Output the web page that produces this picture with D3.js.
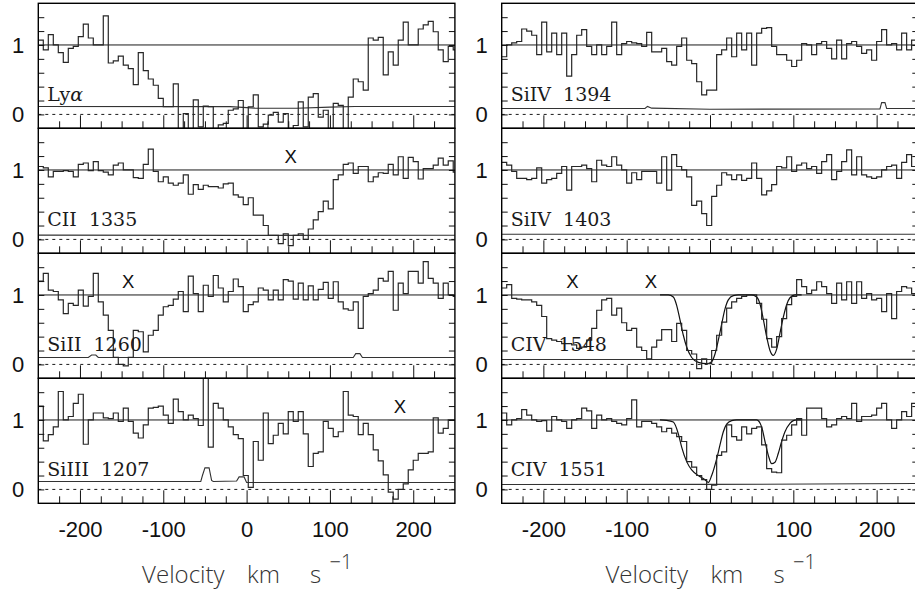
<!DOCTYPE html>
<html>
<head>
<meta charset="utf-8">
<script src="https://cdn.jsdelivr.net/npm/d3@7"></script>
<style>
  body { margin: 0; background: #fff; }
  svg { display: block; }
</style>
</head>
<body>
<svg id="chart" width="915" height="593"></svg>
<script>
// Velocity grid of the binned spectra (km/s)
const vStart = -250;
const vStep = 6;

// Normalised flux per bin
const lyaFlux = [
  1.07,0.93,1.15,1.0,0.89,0.75,0.95,0.98,1.12,1.3,
  1.1,1.0,1.0,1.42,0.74,0.77,0.84,0.71,0.66,0.43,
  0.89,0.63,0.51,0.42,0.23,0.11,0.11,
  0.44,-0.25,0.01,-0.25,0.21,-0.18,0.12,0.11,-0.25,-0.15,
  -0.13,0.06,0.08,0.2,-0.25,0.11,0.28,-0.18,-0.14,-0.01,
  0.03,-0.11,0.01,-0.25,-0.16,0.18,-0.18,0.25,0.3,-0.04,
  0.06,-0.25,0.16,0.13,-0.25,
  0.25,0.51,0.47,0.35,1.1,1.07,1.11,0.57,0.9,0.71,
  1.07,1.33,1.0,1.0,1.23,1.29,1.34,1.19,0.93,0.76,0.98,0.93
];
const ciiFlux = [
  1.05,1.03,0.9,0.98,0.98,0.99,0.98,0.9,1.08,1.1,
  0.99,1.12,0.99,0.97,0.93,1.07,1.1,1.0,1.0,0.89,
  0.88,1.08,1.3,0.98,0.83,0.9,0.81,0.78,0.81,0.93,
  0.65,0.79,0.72,0.78,0.76,0.76,0.74,0.8,0.81,0.64,
  0.61,0.5,0.6,0.35,0.35,0.2,0.06,0.06,-0.06,0.08,
  -0.09,0.06,0.08,0.0,0.15,0.28,0.4,0.55,0.44,0.86,
  0.93,1.08,1.1,0.95,1.05,1.05,0.83,0.9,0.96,0.95,
  1.08,0.93,1.19,0.88,1.18,1.12,0.87,1.02,1.02,1.07,
  1.17,1.07,1.13,0.97
];
const siiiFlux = [
  1.2,1.31,1.07,1.05,0.93,0.73,0.88,0.85,1.07,0.84,
  0.98,1.31,0.9,0.71,0.49,0.1,0.0,-0.02,0.1,0.49,
  0.47,0.18,0.42,0.49,0.71,0.83,0.85,0.94,1.05,0.76,
  1.27,1.02,0.76,1.14,0.98,1.28,1.1,0.9,1.05,1.23,
  1.12,0.76,0.86,0.9,1.1,1.07,0.93,1.07,0.93,1.22,
  1.2,0.94,1.17,0.93,1.13,0.93,1.08,1.18,0.95,1.19,
  0.9,0.8,0.78,0.9,0.52,0.98,1.02,1.07,1.24,1.2,
  1.34,0.78,1.17,1.02,1.34,1.34,1.17,1.48,1.24,1.17,
  0.95,1.17,1.0,0.98
];
const siiiiFlux = [
  1.2,0.7,0.79,0.9,1.41,1.0,1.05,1.24,1.37,0.65,
  1.0,1.1,1.1,1.03,1.02,1.1,0.98,1.17,0.98,0.81,
  0.74,0.93,1.17,1.18,1.2,1.07,0.95,1.3,1.12,1.0,
  1.07,1.02,0.92,1.7,0.61,1.24,1.17,1.0,0.9,0.79,
  0.73,0.2,0.03,0.69,0.42,1.1,0.66,0.78,0.95,0.8,
  1.12,0.98,1.12,0.8,0.33,0.52,0.54,0.98,0.88,0.76,
  0.83,1.41,1.07,1.05,0.79,0.95,0.79,0.57,0.41,0.21,
  -0.04,-0.14,0.0,0.08,0.28,0.42,0.52,0.52,0.54,1.03,
  0.81,0.88,1.0,1.0
];
const siiv1394Flux = [
  0.83,1.0,1.03,1.05,1.23,1.2,1.14,0.86,1.33,0.9,
  1.17,0.86,1.17,0.55,0.86,1.14,1.22,0.98,0.86,1.0,
  0.86,0.98,1.33,0.86,1.02,1.05,1.03,1.02,0.98,1.18,
  0.9,0.9,0.95,0.76,0.71,0.98,1.1,0.78,0.73,0.47,
  0.28,0.35,0.35,0.86,0.93,1.1,0.83,1.17,0.93,1.17,
  0.71,1.17,1.24,1.25,0.98,0.86,0.86,0.78,0.69,0.78,
  1.02,1.0,0.86,1.02,1.05,0.95,0.8,1.07,0.8,1.02,
  1.05,0.98,0.88,0.93,0.78,1.05,1.22,1.0,1.02,0.93,
  1.17,0.93,1.07,1.0
];
const siiv1403Flux = [
  1.11,1.07,0.98,0.88,0.88,0.86,0.88,1.03,0.81,0.86,
  0.88,0.95,1.05,0.71,1.05,1.05,1.07,1.02,0.83,1.14,
  1.07,1.05,1.19,1.07,1.0,0.81,0.96,0.86,0.98,0.98,
  0.98,0.81,1.19,0.71,1.22,1.05,1.0,0.9,0.49,0.55,
  0.37,0.2,0.62,0.78,0.96,0.93,0.86,0.93,0.85,0.88,
  1.1,0.88,0.64,0.7,0.79,1.05,1.03,1.19,0.98,1.07,
  1.1,1.02,1.05,0.95,1.12,1.22,0.86,0.98,1.12,1.29,
  0.93,1.19,0.93,0.9,0.88,0.9,1.0,1.05,1.07,0.88,
  1.11,1.22,1.05,1.05
];
const civ1548Flux = [
  1.1,1.15,0.95,0.94,0.93,0.93,0.9,0.85,0.69,0.37,
  0.35,0.33,0.3,0.3,0.28,0.23,0.25,0.35,0.52,0.78,
  0.93,0.95,0.71,0.81,0.6,0.49,0.52,0.25,0.2,0.08,
  0.25,0.35,0.5,0.5,0.33,0.59,0.49,0.2,0.15,-0.06,
  0.08,0.01,0.2,0.42,0.61,0.81,0.9,0.95,0.98,1.0,
  1.0,0.88,0.65,0.37,0.25,0.4,0.66,0.86,0.98,1.22,
  1.12,1.02,1.07,1.19,1.12,1.02,0.88,1.17,0.93,1.19,
  0.88,1.19,0.95,1.02,0.93,0.95,0.76,1.02,0.66,1.05,
  1.12,1.1,1.02,1.0
];
const civ1551Flux = [
  1.1,0.93,1.0,1.02,1.15,1.07,1.0,0.98,0.99,0.84,
  1.05,1.0,0.98,0.88,1.0,1.02,1.17,1.13,0.88,1.07,
  1.0,1.02,0.98,0.95,0.93,1.02,1.29,0.9,0.98,0.98,
  0.95,0.9,0.83,0.88,0.81,0.76,0.69,0.4,0.32,0.2,
  0.14,0.0,0.06,0.49,0.54,0.93,0.76,0.71,0.9,0.8,
  0.88,0.9,0.64,0.3,0.25,0.24,0.71,0.78,0.93,1.02,
  0.78,1.17,1.17,1.17,1.02,0.9,0.93,1.02,1.05,1.02,
  1.24,0.98,1.05,1.05,1.07,1.17,1.24,1.0,0.88,1.0,
  1.12,1.05,1.24,1.0
];

// 1-sigma error spectra as [velocity, error] knots
const lyaErr = [[-250,0.115],[-20,0.112],[10,0.09],[60,0.088],[100,0.105],[130,0.115],[250,0.115]];
const ciiErr = [[-250,0.062],[0,0.058],[250,0.06]];
const siiiErr = [[-250,0.1],[-190,0.1],[-186,0.135],[-181,0.135],[-178,0.1],[128,0.1],[131,0.155],[136,0.155],[139,0.1],[250,0.1]];
const siiiiErr = [[-250,0.115],[-55,0.115],[-53,0.2],[-50,0.31],[-45,0.31],[-42,0.13],[-40,0.115],[-12,0.12],[-9,0.18],[-3,0.18],[0,0.1],[250,0.1]];
const siiv1394Err = [[-250,0.085],[-78,0.085],[-75,0.115],[-70,0.09],[0,0.075],[204,0.08],[206,0.17],[210,0.17],[212,0.085],[250,0.085]];
const siiv1403Err = [[-250,0.075],[250,0.075]];
const civ1548Err = [[-250,0.07],[250,0.072]];
const civ1551Err = [[-250,0.07],[0,0.072],[250,0.085]];

// Voigt-profile fits to the CIV doublet, [velocity, flux]
const civ1548Fit = [[-60,1],[-50,1],[-44,0.97],[-40,0.85],[-36,0.64],[-32,0.42],[-28,0.25],[-22,0.1],[-14,0.03],[-4,0.01],[2,0.04],[6,0.15],[10,0.35],[14,0.58],[18,0.8],[22,0.93],[28,0.99],[34,1.0],[50,1.0],[56,0.97],[60,0.87],[64,0.65],[68,0.4],[72,0.2],[76,0.13],[80,0.22],[84,0.45],[88,0.68],[92,0.86],[96,0.96],[102,1.0],[110,1.0]];
const civ1551Fit = [[-60,1],[-52,0.995],[-44,0.97],[-38,0.8],[-34,0.61],[-28,0.4],[-22,0.28],[-14,0.2],[-6,0.14],[-2,0.1],[2,0.2],[8,0.44],[12,0.64],[16,0.83],[20,0.94],[26,0.99],[32,1.0],[56,1.0],[62,0.9],[66,0.69],[70,0.49],[74,0.37],[78,0.39],[82,0.52],[86,0.69],[90,0.83],[96,0.95],[100,0.99],[104,1.0],[110,1.0]];

// Contaminating features marked with an X (velocity)
const ciiMarks = [53];
const siiiMarks = [-142];
const siiiiMarks = [184];
const civ1548Marks = [-165, -71];

const xDomain = [-250, 250];
const yDomain = [-0.2, 1.6];
const xTickMajor = [-200, -100, 0, 100, 200];
const xTickMinor = [-225, -175, -150, -125, -75, -50, -25, 25, 50, 75, 125, 150, 175, 225];
const yTickMinor = [0, 0.2, 0.4, 0.6, 0.8, 1, 1.2, 1.4];
const yTickLabels = [0, 1];

const panels = [
  { col: 0, row: 0, ion: "Ly", greek: "\u03b1", flux: lyaFlux, err: lyaErr },
  { col: 0, row: 1, ion: "CII  1335", flux: ciiFlux, err: ciiErr, marks: ciiMarks },
  { col: 0, row: 2, ion: "SiII  1260", flux: siiiFlux, err: siiiErr, marks: siiiMarks },
  { col: 0, row: 3, ion: "SiIII  1207", flux: siiiiFlux, err: siiiiErr, marks: siiiiMarks },
  { col: 1, row: 0, ion: "SiIV  1394", flux: siiv1394Flux, err: siiv1394Err },
  { col: 1, row: 1, ion: "SiIV  1403", flux: siiv1403Flux, err: siiv1403Err },
  { col: 1, row: 2, ion: "CIV  1548", flux: civ1548Flux, err: civ1548Err, marks: civ1548Marks, fit: civ1548Fit },
  { col: 1, row: 3, ion: "CIV  1551", flux: civ1551Flux, err: civ1551Err, fit: civ1551Fit }
];

// Layout
const colX = [38.3, 501.7];
const colW = 416.6;
const topY = 3.3;
const panelH = 125;
const nRows = 4;

const svg = d3.select("#chart");
const defs = svg.append("defs");
const sansFont = "'Liberation Sans', Arial, Helvetica, sans-serif";
const serifFont = "'DejaVu Serif', 'Liberation Serif', serif";

panels.forEach((p, i) => {
  const x0 = colX[p.col];
  const y0 = topY + p.row * panelH;
  const x = d3.scaleLinear().domain(xDomain).range([x0, x0 + colW]);
  const y = d3.scaleLinear().domain(yDomain).range([y0 + panelH, y0]);

  const clipId = "panel-clip-" + i;
  defs.append("clipPath").attr("id", clipId)
    .append("rect").attr("x", x0).attr("y", y0).attr("width", colW).attr("height", panelH);

  const g = svg.append("g");
  const body = g.append("g").attr("clip-path", `url(#${clipId})`);

  // continuum level
  body.append("line")
    .attr("x1", x(xDomain[0])).attr("x2", x(xDomain[1]))
    .attr("y1", y(1)).attr("y2", y(1))
    .attr("stroke", "#1a1a1a").attr("stroke-width", 1);

  // zero level
  body.append("line")
    .attr("x1", x(xDomain[0])).attr("x2", x(xDomain[1]))
    .attr("y1", y(0)).attr("y2", y(0))
    .attr("stroke", "#1a1a1a").attr("stroke-width", 1)
    .attr("stroke-dasharray", "3,4");

  // error spectrum
  body.append("path").datum(p.err)
    .attr("d", d3.line().x(d => x(d[0])).y(d => y(d[1])))
    .attr("fill", "none").attr("stroke", "#333").attr("stroke-width", 1.1);

  // model fit
  if (p.fit) {
    body.append("path").datum(p.fit)
      .attr("d", d3.line().curve(d3.curveMonotoneX).x(d => x(d[0])).y(d => y(d[1])))
      .attr("fill", "none").attr("stroke", "#111").attr("stroke-width", 1.2);
  }

  // binned flux histogram
  const pts = p.flux.map((f, k) => [vStart + k * vStep, f]);
  pts.push([vStart + p.flux.length * vStep, p.flux[p.flux.length - 1]]);
  body.append("path").datum(pts)
    .attr("d", d3.line().curve(d3.curveStepAfter).x(d => x(d[0])).y(d => y(d[1])))
    .attr("fill", "none").attr("stroke", "#262626").attr("stroke-width", 1.2);

  // ion label
  const lab = g.append("text")
    .attr("x", x0 + 9).attr("y", y(0.2))
    .attr("font-family", serifFont).attr("font-size", 19)
    .attr("fill", "#1a1a1a").style("white-space", "pre")
    .text(p.ion);
  if (p.greek) lab.append("tspan").attr("font-style", "italic").text(p.greek);

  // contamination marks
  (p.marks || []).forEach(v => {
    g.append("text")
      .attr("x", x(v)).attr("y", y(1.1))
      .attr("text-anchor", "middle")
      .attr("font-family", sansFont).attr("font-size", 18.5)
      .attr("fill", "#111").text("X");
  });

  const styleAxis = s => {
    s.select(".domain").remove();
    s.selectAll(".tick line").attr("stroke", "#111").attr("stroke-width", 1);
  };

  // x ticks along the panel bottom, pointing inward
  g.append("g").attr("transform", `translate(0,${y0 + panelH})`)
    .call(d3.axisBottom(x).tickValues(xTickMinor).tickSize(-7).tickFormat(""))
    .call(styleAxis);
  const isBottom = p.row === nRows - 1;
  const major = g.append("g").attr("transform", `translate(0,${y0 + panelH})`)
    .call(d3.axisBottom(x).tickValues(xTickMajor).tickSize(-13)
      .tickFormat(isBottom ? (d => String(d)) : ""))
    .call(styleAxis);
  major.selectAll("text")
    .attr("y", 34).attr("dy", "0")
    .attr("font-family", sansFont).attr("font-size", 22).attr("fill", "#111");

  // y ticks on both sides, pointing inward
  g.append("g").attr("transform", `translate(${x0},0)`)
    .call(d3.axisLeft(y).tickValues(yTickMinor).tickSize(-6).tickFormat(""))
    .call(styleAxis);
  g.append("g").attr("transform", `translate(${x0 + colW},0)`)
    .call(d3.axisRight(y).tickValues(yTickMinor).tickSize(-6).tickFormat(""))
    .call(styleAxis);
  const yl = g.append("g").attr("transform", `translate(${x0},0)`)
    .call(d3.axisLeft(y).tickValues(yTickLabels).tickSize(0).tickPadding(14).tickFormat(d3.format("d")))
    .call(s => s.select(".domain").remove());
  yl.selectAll("text").attr("font-family", sansFont).attr("font-size", 22).attr("fill", "#111");

  // panel frame
  g.append("rect")
    .attr("x", x0).attr("y", y0).attr("width", colW).attr("height", panelH)
    .attr("fill", "none").attr("stroke", "#000").attr("stroke-width", 1.4);
});

// x-axis titles under each column
colX.forEach(cx0 => {
  const cx = cx0 + colW / 2;
  const t = svg.append("text")
    .attr("y", 583)
    .attr("font-family", "'Open Sans', 'Liberation Sans', sans-serif")
    .attr("font-weight", 300).attr("font-size", 24).attr("fill", "#333");
  t.append("tspan").attr("x", cx - 104.5).text("Velocity");
  t.append("tspan").attr("x", cx + 0.5).text("km");
  t.append("tspan").attr("x", cx + 63.5).text("s");
  t.append("tspan").attr("x", cx + 83).attr("y", 569).attr("font-size", 20).text("\u22121");
});
</script>
</body>
</html>
